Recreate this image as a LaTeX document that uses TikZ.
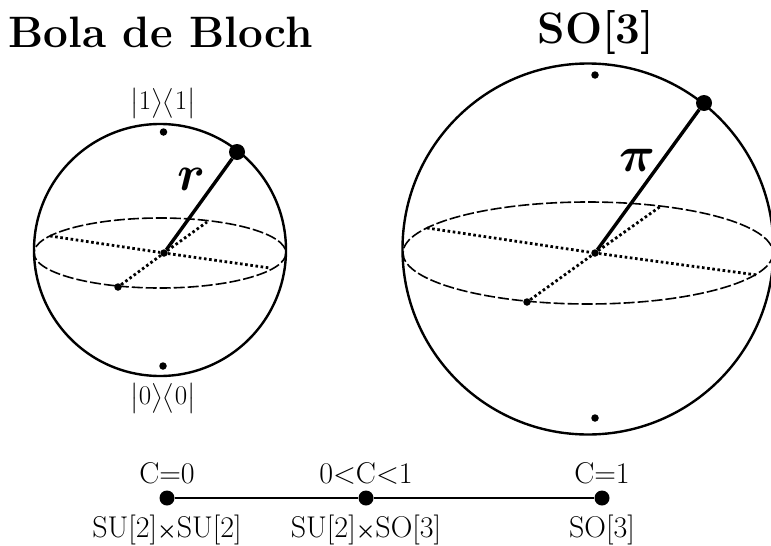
\documentclass[tikz,border=0pt]{standalone}
\usepackage{fix-cm}
\usepackage{amsmath}
\usepackage{xcolor}
\usetikzlibrary{arrows.meta, positioning}
\newcommand{\projector}[1]{$\big|#1\big\rangle\big\langle #1\big|$}
\tikzset{
  smalldot/.style={circle, fill=black, inner sep=0pt, minimum size=7.5pt},
  bigdot/.style={circle, fill=black, inner sep=0pt, minimum size=16pt},
  axisdot/.style={circle, fill=black, inner sep=0pt, minimum size=15pt},
  ballline/.style={line width=2.4pt},
  radiusline/.style={line width=3.4pt},
  equator/.style={line width=1.6pt, dash pattern=on 11pt off 3pt},
  spokeline/.style={line width=2.8pt, dash pattern=on 2.6pt off 2.6pt},
  titletext/.style={font=\fontsize{44}{48}\selectfont\bfseries},
  labeltext/.style={font=\fontsize{30}{34}\selectfont, inner sep=0pt},
  braketext/.style={font=\fontsize{27}{20}\selectfont, inner sep=0pt},
  symboltext/.style={font=\fontsize{50}{54}\selectfont, inner sep=0pt}
}
\begin{document}
\begin{tikzpicture}[x=1pt, y=-1pt]
\useasboundingbox (0,0) rectangle (771,546);
% left ball
\node[titletext] (blochtitle) at (160.5,32) {Bola de Bloch};
\draw[ballline] (160,250) circle [radius=126];
\draw[equator] (160,253) ellipse [x radius=126, y radius=35];
\node[smalldot] (lcentre) at (164,253) {};
\node[smalldot] (lfront) at (118,287) {};
\coordinate (lback) at (207,222);
\coordinate (lleft) at (50,236);
\coordinate (lright) at (270,268);
\node[smalldot] (ltop) at (163.5,132) {};
\node[smalldot] (lbottom) at (163,366) {};
\node[bigdot] (lstate) at (237,152) {};
\draw[spokeline] (lfront) -- (lcentre) -- (lback);
\draw[spokeline] (lleft) -- (lcentre) -- (lright);
\draw[radiusline] (lcentre) -- (lstate);
\node[symboltext] (rlabel) at (192,179) {$\boldsymbol{r}$};
\node[braketext] (onelabel) at (163,103) {\projector{1}};
\node[braketext] (zerolabel) at (163,398) {\projector{0}};
% right ball
\node[titletext] (sotitle) at (596,32) {SO[3]};
\draw[ballline] (588,249) circle [radius=185.5];
\draw[equator] (588,253) ellipse [x radius=185, y radius=51];
\node[smalldot] (rcentre) at (595,253) {};
\node[smalldot] (rfront) at (527,302) {};
\coordinate (rback) at (661,206);
\coordinate (rleft) at (427,228);
\coordinate (rright) at (757,275);
\node[smalldot] (rtop) at (595,75) {};
\node[smalldot] (rbottom) at (595,418) {};
\node[bigdot] (rstate) at (704,103) {};
\draw[spokeline] (rfront) -- (rcentre) -- (rback);
\draw[spokeline] (rleft) -- (rcentre) -- (rright);
\draw[radiusline] (rcentre) -- (rstate);
\node[symboltext] (pilabel) at (637,160) {$\boldsymbol{\pi}$};
% bottom scale
\node[axisdot] (cstart) at (167,498) {};
\node[axisdot] (cmiddle) at (366,498) {};
\node[axisdot] (cend) at (602,498) {};
\draw[ballline] (cstart) -- (cmiddle) -- (cend);
\node[labeltext, above=6pt of cstart] (cstartlabel) {C=0};
\node[labeltext, above=6pt of cmiddle] (cmiddlelabel) {0<C<1};
\node[labeltext, above=6pt of cend] (cendlabel) {C=1};
\node[labeltext, below=9pt of cstart] (cstartgroup) {SU[2]{\fontsize{22}{22}\selectfont$\boldsymbol{\times}$}SU[2]};
\node[labeltext, below=9pt of cmiddle] (cmiddlegroup) {SU[2]{\fontsize{22}{22}\selectfont$\boldsymbol{\times}$}SO[3]};
\node[labeltext, below=9pt of cend] (cendgroup) {SO[3]};
\end{tikzpicture}
\end{document}
